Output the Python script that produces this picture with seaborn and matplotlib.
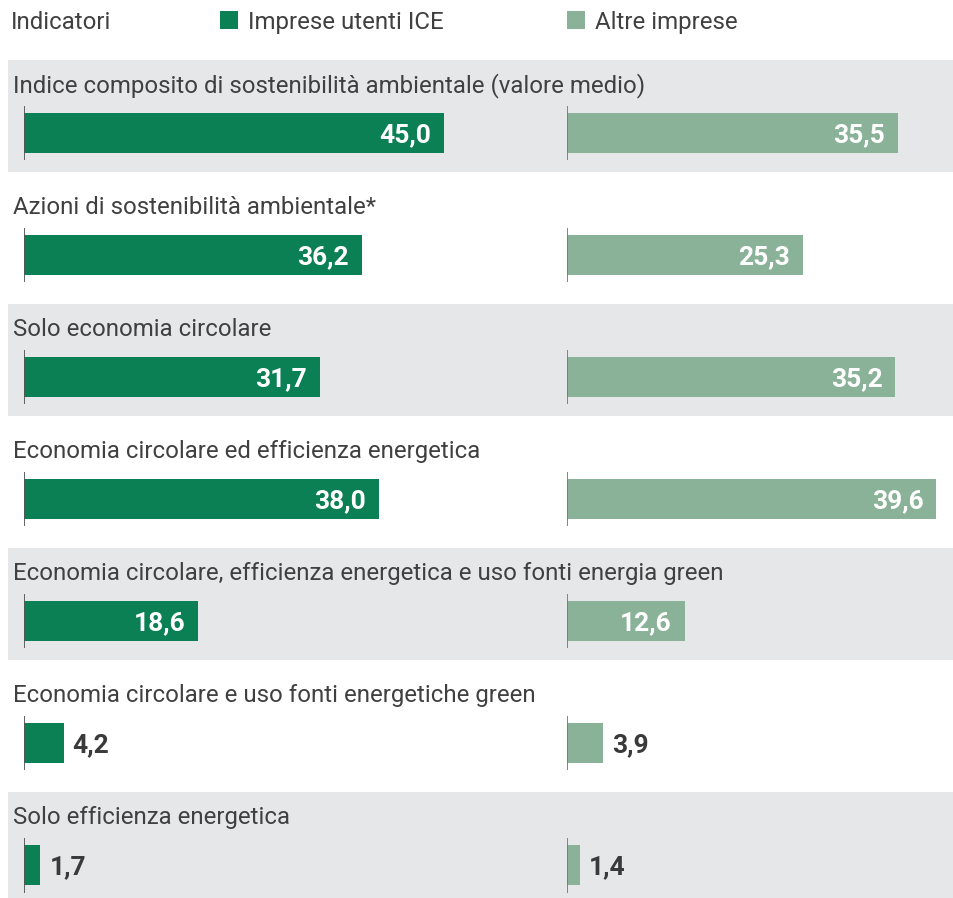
import matplotlib
matplotlib.use("Agg")
import matplotlib.pyplot as plt
import matplotlib.transforms as mtransforms
from matplotlib.patches import Rectangle
import pandas as pd
import seaborn as sns

# Data
indicators = [
    "Indice composito di sostenibilità ambientale (valore medio)",
    "Azioni di sostenibilità ambientale*",
    "Solo economia circolare",
    "Economia circolare ed efficienza energetica",
    "Economia circolare, efficienza energetica e uso fonti energia green",
    "Economia circolare e uso fonti energetiche green",
    "Solo efficienza energetica",
]
ice_users = [45.0, 36.2, 31.7, 38.0, 18.6, 4.2, 1.7]
other_firms = [35.5, 25.3, 35.2, 39.6, 12.6, 3.9, 1.4]
series_names = ["Imprese utenti ICE", "Altre imprese"]
header_label = "Indicatori"

DARK_GREEN = "#0B8054"
LIGHT_GREEN = "#8AB298"
BAND_GREY = "#E6E7E9"
TEXT = "#404040"

sns.set_theme(style="white")
plt.rcParams["font.family"] = ["Roboto", "DejaVu Sans"]

W, H = 954, 898
fig = plt.figure(figsize=(W / 100, H / 100), dpi=100)
fig.patch.set_facecolor("white")

top_px = 60
ax_l = fig.add_axes([24.5 / W, 0, (491 - 24.5) / W, (H - top_px) / H])
ax_r = fig.add_axes([567 / W, 0, (W - 567) / W, (H - top_px) / H])

px_per_unit = 466.5 / 50.0
limits = {ax_l: 50.0, ax_r: (W - 567) / px_per_unit}

frames = [
    (ax_l, pd.DataFrame({"indicator": indicators, "value": ice_users}), DARK_GREEN, "#555555"),
    (ax_r, pd.DataFrame({"indicator": indicators, "value": other_firms}), LIGHT_GREEN, "#7a7a7a"),
]

n = len(indicators)
for ax, df, colour, tick_colour in frames:
    sns.barplot(data=df, x="value", y="indicator", orient="h", color=colour,
                width=0.328, saturation=1, linewidth=0, edgecolor="none", ax=ax, zorder=3)
    ax.set_facecolor("none")
    ax.set_xlim(0, limits[ax])
    ax.set_ylim(6.27, -0.598)
    ax.set_xlabel("")
    ax.set_ylabel("")
    ax.set_xticks([])
    ax.set_yticks([])
    for s in ax.spines.values():
        s.set_visible(False)
    # short baseline marker at zero for each row
    ax.vlines([0] * n, [i - 0.225 for i in range(n)], [i + 0.225 for i in range(n)],
              color=tick_colour, lw=1.3, zorder=4)
    for i, v in enumerate(df["value"]):
        label = f"{v:.1f}".replace(".", ",")
        if v > 10:
            ax.annotate(label, (v, i), xytext=(-13, 0), textcoords="offset pixels",
                        ha="right", va="center_baseline", color="white",
                        fontsize=19, fontweight="bold", zorder=5)
        else:
            ax.annotate(label, (v, i), xytext=(9, 0), textcoords="offset pixels",
                        ha="left", va="center_baseline", color="#3a3a3a",
                        fontsize=19, fontweight="bold", zorder=5)

# alternating grey bands and row titles
band_tr = mtransforms.blended_transform_factory(fig.transFigure, ax_l.transData)
for i, name in enumerate(indicators):
    if i % 2 == 0:
        ax_l.add_patch(Rectangle((8 / W, i - 0.6), 1 - 8 / W, 0.92, transform=band_tr,
                                 facecolor=BAND_GREY, edgecolor="none", clip_on=False, zorder=0))
    ax_l.text(13 / W, i - 0.336, name, transform=band_tr, ha="left", va="baseline",
              fontsize=17.25, color=TEXT, zorder=2)

# header with legend
fig.text(11 / W, 1 - 29 / H, header_label, ha="left", va="baseline", fontsize=17.25, color=TEXT)
for x0, colour, name in [(220, DARK_GREEN, series_names[0]), (567, LIGHT_GREEN, series_names[1])]:
    fig.patches.append(Rectangle((x0 / W, 1 - 29 / H), 18 / W, 18 / H, transform=fig.transFigure,
                                 facecolor=colour, edgecolor="none"))
    fig.text((x0 + 28) / W, 1 - 29 / H, name, ha="left", va="baseline", fontsize=17.25, color=TEXT)

fig.savefig("out.png", dpi=100)
